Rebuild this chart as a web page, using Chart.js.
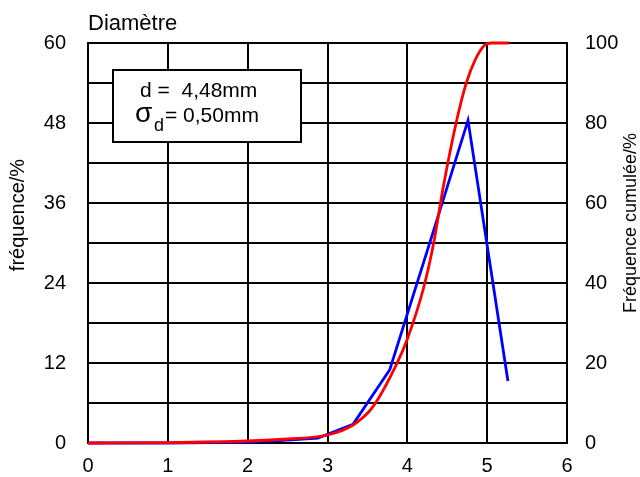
<!DOCTYPE html>
<html>
<head>
<meta charset="utf-8">
<script src="https://cdn.jsdelivr.net/npm/chart.js@4.4.0/dist/chart.umd.min.js"></script>
<style>
  html, body { margin: 0; padding: 0; background: #fff; }
  canvas { display: block; }
</style>
</head>
<body>
<canvas id="myChart" width="640" height="477"></canvas>
<script>
// fréquence (left axis)
const freqX = [0, 0.5, 1, 1.5, 2, 2.4, 2.88, 3.32, 3.78, 4.27, 4.76, 5.26];
const freqY = [0, 0, 0, 0.05, 0.15, 0.35, 0.75, 2.8, 11, 29.6, 48.4, 9.3];

// fréquence cumulée (right axis)
const cumX = [0, 1, 2, 2.5, 3, 3.32, 3.57, 3.87, 4.0, 4.2, 4.33, 4.45, 4.62, 4.74, 4.85, 4.97, 5.05, 5.27];
const cumY = [0, 0.1, 0.5, 1, 2, 4.5, 9.1, 19.9, 26, 38.5, 50, 64, 80.8, 90.1, 95.8, 99.5, 100, 100];

const xTicks = [0, 1, 2, 3, 4, 5, 6];
const freqTicks = [0, 12, 24, 36, 48, 60];
const cumTicks = [0, 20, 40, 60, 80, 100];

const chartTitle = 'Diamètre';
const leftTitle = 'fréquence/%';
const rightTitle = 'Fréquence cumulée/%';
const meanText = 'd =  4,48mm';
const sdText = '= 0,50mm';

const FONT = '"Liberation Sans", Arial, sans-serif';

const toPoints = (xs, ys) => xs.map((x, i) => ({x: x, y: ys[i]}));

const decorations = {
    id: 'decorations',
    afterDatasetsDraw(chart) {
        const ctx = chart.ctx;
        const area = chart.chartArea;
        ctx.save();
        ctx.fillStyle = '#000';

        // title
        ctx.font = '22px ' + FONT;
        ctx.textAlign = 'left';
        ctx.textBaseline = 'alphabetic';
        ctx.fillText(chartTitle, area.left, 30);

        // axis titles
        ctx.textAlign = 'center';
        ctx.textBaseline = 'middle';
        ctx.font = '20px ' + FONT;
        ctx.save();
        ctx.translate(18, 215);
        ctx.rotate(-Math.PI / 2);
        ctx.fillText(leftTitle, 0, 0);
        ctx.restore();
        ctx.font = '18px ' + FONT;
        ctx.save();
        ctx.translate(631, 223);
        ctx.rotate(-Math.PI / 2);
        ctx.fillText(rightTitle, 0, 0);
        ctx.restore();

        // stats box
        const bx = area.left + 25, by = area.top + 27;
        ctx.fillStyle = '#fff';
        ctx.fillRect(bx, by, 188, 72);
        ctx.strokeStyle = '#000';
        ctx.lineWidth = 2;
        ctx.strokeRect(bx, by, 188, 72);

        ctx.fillStyle = '#000';
        ctx.textAlign = 'left';
        ctx.textBaseline = 'alphabetic';
        ctx.font = '21px ' + FONT;
        ctx.fillText(meanText, bx + 27, by + 27);
        ctx.font = '28px ' + FONT;
        ctx.fillText('σ', bx + 22, by + 52);
        ctx.font = '18px ' + FONT;
        ctx.fillText('d', bx + 41, by + 61);
        ctx.font = '21px ' + FONT;
        ctx.fillText(sdText, bx + 52, by + 52);

        ctx.restore();
    }
};

const ctx = document.getElementById('myChart').getContext('2d');
new Chart(ctx, {
    type: 'line',
    data: {
        datasets: [{
            label: 'cumulée',
            data: toPoints(cumX, cumY),
            yAxisID: 'y1',
            borderColor: '#ff0000',
            borderWidth: 2.8,
            pointRadius: 0,
            cubicInterpolationMode: 'monotone',
            fill: false,
            clip: false
        }, {
            label: 'fréquence',
            data: toPoints(freqX, freqY),
            yAxisID: 'y',
            borderColor: '#0000ff',
            borderWidth: 2.8,
            pointRadius: 0,
            tension: 0,
            fill: false,
            clip: false
        }]
    },
    options: {
        responsive: false,
        animation: false,
        devicePixelRatio: 1,
        layout: { padding: { top: 43, left: 0, right: 0, bottom: 0 } },
        plugins: {
            legend: { display: false },
            title: { display: false },
            tooltip: { enabled: false }
        },
        scales: {
            x: {
                type: 'linear',
                min: 0,
                max: 6,
                afterBuildTicks: s => { s.ticks = xTicks.map(v => ({value: v})); },
                afterFit: s => { s.height = 34; },
                grid: { color: '#000', lineWidth: 2, drawTicks: false },
                border: { color: '#000', width: 2 },
                ticks: { color: '#000', padding: 11, font: { family: FONT, size: 20 } }
            },
            y: {
                position: 'left',
                min: 0,
                max: 60,
                afterBuildTicks: s => {
                    const t = [];
                    for (let v = 0; v <= 60; v += 6) t.push({value: v});
                    s.ticks = t;
                },
                afterFit: s => { s.width = 88; },
                grid: { color: '#000', lineWidth: 2, drawTicks: false },
                border: { color: '#000', width: 2 },
                ticks: {
                    color: '#000',
                    padding: 22,
                    font: { family: FONT, size: 20 },
                    callback: v => freqTicks.includes(v) ? String(v) : ''
                }
            },
            y1: {
                position: 'right',
                min: 0,
                max: 100,
                afterBuildTicks: s => { s.ticks = cumTicks.map(v => ({value: v})); },
                afterFit: s => { s.width = 73; },
                grid: { display: false, drawTicks: false },
                border: { color: '#000', width: 2 },
                ticks: { color: '#000', padding: 18, font: { family: FONT, size: 20 } }
            }
        }
    },
    plugins: [decorations]
});
</script>
</body>
</html>
